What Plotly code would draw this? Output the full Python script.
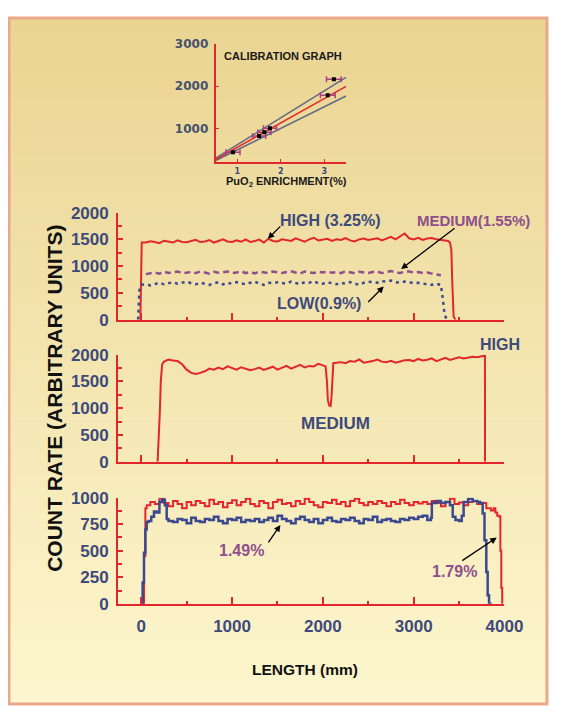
import plotly.graph_objects as go

# Page is 573x722; browser body keeps its default 8px margin, so the figure is 16px smaller.
PAGE_W, PAGE_H = 573, 722
BODY_MARGIN = 8
W, H = PAGE_W - 2 * BODY_MARGIN, PAGE_H - 2 * BODY_MARGIN

# ---------------- data ----------------
# Panel 1: three pellets of different enrichment (count rate vs length, mm)
P1_HIGH_X = [-10, 5] + list(range(50, 3400, 50)) + [3380, 3400, 3415, 3425, 3440, 3460]
P1_HIGH_Y = [0, 1440,
             1440, 1465, 1450, 1430, 1475, 1455, 1440, 1480, 1450, 1445,
             1470, 1490, 1450, 1460, 1485, 1440, 1470, 1500, 1460, 1450,
             1480, 1455, 1500, 1450, 1470, 1495, 1440, 1510, 1470, 1460,
             1500, 1480, 1470, 1520, 1490, 1455, 1500, 1530, 1480, 1490,
             1510, 1470, 1500, 1490, 1525, 1480, 1460, 1500, 1515, 1490,
             1500, 1520, 1480, 1510, 1545, 1500, 1560, 1610, 1520, 1500,
             1530, 1490, 1515, 1525, 1500, 1490, 1480,
             1470, 1440, 1300, 700, 60, 0]

P1_MED_X = list(range(50, 3350, 50))
P1_MED_Y = [850, 870, 880, 860, 895, 870, 880, 900, 865, 880,
            890, 870, 900, 880, 860, 895, 875, 885, 900, 870,
            880, 905, 870, 890, 865, 895, 880, 870, 900, 885,
            870, 890, 905, 880, 860, 900, 885, 870, 895, 880,
            900, 875, 890, 870, 905, 880, 865, 895, 880, 870,
            890, 900, 870, 885, 910, 880, 870, 895, 900, 880,
            890, 870, 880, 860, 850, 830]

P1_LOW_X = [-35, -30, -25, -20, 0] + list(range(50, 3350, 50)) + [3310, 3320, 3330, 3340, 3360, 3380]
P1_LOW_Y = [0, 150, 350, 560, 650,
            660, 640, 670, 690, 660, 680, 700, 670, 690, 710,
            680, 660, 690, 670, 650, 680, 700, 660, 690, 670,
            700, 680, 660, 690, 710, 670, 650, 690, 680, 700,
            690, 670, 710, 680, 660, 700, 690, 720, 680, 670,
            700, 680, 660, 690, 670, 700, 680, 650, 690, 710,
            700, 690, 720, 710, 730, 700, 690, 710, 700, 680,
            690, 670, 660, 650, 670, 650,
            560, 400, 250, 100, 20, 0]

# Panel 2: pellet column with a medium pellet inside a high column
P2_X = ([180, 195, 205, 215, 230] + list(range(250, 2050, 50))
        + [2030, 2045, 2055, 2070, 2085, 2095, 2105, 2115]
        + list(range(2150, 3800, 50)) + [3785, 3786])
P2_Y = [0, 450, 950, 1500, 1820,
        1870, 1910, 1890, 1880, 1820, 1720, 1660, 1640, 1660, 1690,
        1740, 1720, 1760, 1730, 1780, 1750, 1720, 1765, 1740, 1710,
        1730, 1760, 1715, 1745, 1775, 1720, 1760, 1790, 1740, 1770,
        1810, 1760, 1790, 1780, 1830, 1800,
        1780, 1500, 1150, 1050, 1040, 1200, 1500, 1840,
        1850, 1860, 1840, 1880, 1870, 1910, 1850, 1860, 1880, 1910,
        1870, 1860, 1885, 1850, 1870, 1895, 1900, 1880, 1920, 1890,
        1905, 1930, 1880, 1910, 1940, 1900, 1925, 1950, 1930, 1945,
        1960, 1950, 1975,
        1985, 0]

# Panel 3: two fuel pins (1.79 % red, 1.49 % blue)
P3_RED_X = [15, 30, 45, 60] + list(range(100, 3900, 50)) + [3880, 3900, 3920, 3945, 3955, 3965, 3975]
P3_RED_Y = [0, 450, 900, 930,
            960, 940, 990, 950, 920, 970, 940, 900, 960, 930,
            970, 950, 920, 980, 940, 960, 910, 950, 975, 930,
            960, 990, 940, 920, 970, 950, 900, 960, 980, 940,
            950, 920, 970, 940, 990, 960, 930, 910, 960, 950,
            980, 940, 960, 920, 970, 990, 950, 930, 960, 940,
            970, 950, 920, 960, 940, 980, 950, 930, 960, 945,
            960, 940, 970, 950, 920, 960, 990, 940, 955, 930,
            960, 970, 940, 950, 900, 880,
            900, 860, 830, 820, 500, 150, 0]

P3_BLUE_X = ([0, 15, 30, 45, 60, 80, 110, 140, 170, 200, 230, 260, 280]
             + list(range(300, 3200, 50))
             + [3190, 3200, 3250, 3300, 3350, 3400, 3430, 3460, 3500, 3530, 3550,
                3600, 3650, 3700, 3730, 3760, 3780, 3800, 3815, 3830, 3860])
P3_BLUE_Y = [0, 200, 480, 700, 770, 780, 820, 870, 860, 960, 980, 930, 800,
             780, 770, 800, 790, 760, 810, 780, 770, 800, 790,
             820, 780, 760, 800, 790, 810, 770, 790, 780, 800,
             770, 790, 810, 780, 830, 800, 780, 760, 800, 820,
             790, 770, 800, 760, 790, 810, 780, 770, 800, 790,
             810, 780, 760, 800, 790, 820, 770, 790, 800, 780,
             770, 800, 790, 810, 800, 820, 830, 790,
             810, 950, 970, 950, 960, 930, 820, 790, 780, 830, 960,
             990, 970, 960, 950, 850, 600, 300, 80, 0, 0]

# Inset: calibration graph
CAL_LINE_X = [0.5, 3.5]
CAL_FIT_Y = [260, 2000]
CAL_UPPER_Y = [290, 2210]
CAL_LOWER_Y = [235, 1770]
CAL_ENR = [0.9, 1.5, 1.62, 1.75, 3.08, 3.22]
CAL_RATE = [430, 820, 910, 1000, 1790, 2170]
CAL_ERR = [0.16, 0.15, 0.15, 0.15, 0.17, 0.17]

MAIN_YTICKS_2000 = [0, 500, 1000, 1500, 2000]
MAIN_YTICKS_1000 = [0, 250, 500, 750, 1000]
MAIN_XTICKS = [0, 1000, 2000, 3000, 4000]
CAL_YTICKS = [1000, 2000, 3000]
CAL_XTICKS = [1, 2, 3]

# ---------------- styling ----------------
RED = "#e3262b"
BLUE = "#3b4a8e"
PURPLE = "#8e4f8c"
NAVY_TXT = "#3d4a7c"
FONT = "Liberation Sans, Arial, sans-serif"


def fx(px):
    """page pixel x -> paper fraction"""
    return (px - BODY_MARGIN) / W


def fy(py):
    """page pixel y (from top) -> paper fraction"""
    return 1 - (py - BODY_MARGIN) / H


fig = go.Figure()

# panel 1
fig.add_trace(go.Scatter(x=P1_HIGH_X, y=P1_HIGH_Y, mode="lines", line=dict(color=RED, width=2),
                         xaxis="x", yaxis="y", hoverinfo="skip"))
fig.add_trace(go.Scatter(x=P1_MED_X, y=P1_MED_Y, mode="lines",
                         line=dict(color=PURPLE, width=2.5, dash="6px,4px"),
                         xaxis="x", yaxis="y", hoverinfo="skip"))
fig.add_trace(go.Scatter(x=P1_LOW_X, y=P1_LOW_Y, mode="lines",
                         line=dict(color=BLUE, width=2.5, dash="3px,4px"),
                         xaxis="x", yaxis="y", hoverinfo="skip"))
# panel 2
fig.add_trace(go.Scatter(x=P2_X, y=P2_Y, mode="lines", line=dict(color=RED, width=2),
                         xaxis="x2", yaxis="y2", hoverinfo="skip"))
# panel 3
fig.add_trace(go.Scatter(x=P3_RED_X, y=P3_RED_Y, mode="lines", line=dict(color=RED, width=2),
                         line_shape="hv", xaxis="x3", yaxis="y3", hoverinfo="skip"))
fig.add_trace(go.Scatter(x=P3_BLUE_X, y=P3_BLUE_Y, mode="lines", line=dict(color=BLUE, width=2.5),
                         line_shape="hv", xaxis="x3", yaxis="y3", hoverinfo="skip"))
# inset
fig.add_trace(go.Scatter(x=CAL_LINE_X, y=CAL_UPPER_Y, mode="lines", line=dict(color="#646a86", width=1.5),
                         xaxis="x4", yaxis="y4", hoverinfo="skip"))
fig.add_trace(go.Scatter(x=CAL_LINE_X, y=CAL_LOWER_Y, mode="lines", line=dict(color="#646a86", width=1.5),
                         xaxis="x4", yaxis="y4", hoverinfo="skip"))
fig.add_trace(go.Scatter(x=CAL_LINE_X, y=CAL_FIT_Y, mode="lines", line=dict(color=RED, width=1.5),
                         xaxis="x4", yaxis="y4", hoverinfo="skip"))
fig.add_trace(go.Scatter(x=CAL_ENR, y=CAL_RATE, mode="markers",
                         marker=dict(symbol="square", size=4, color="black"),
                         error_x=dict(type="data", array=CAL_ERR, color="#a8407e", thickness=1.5, width=3),
                         xaxis="x4", yaxis="y4", hoverinfo="skip"))

tickfont = dict(family=FONT, size=17, color=NAVY_TXT, weight="bold")
main_xdom = [fx(122), fx(522)]


def xax(domain, anchor, labels):
    return dict(domain=domain, anchor=anchor, range=[-255, 4000], showgrid=False, zeroline=False,
                showline=True, linecolor=RED, linewidth=2, ticks="inside", ticklen=7, tickwidth=1.5,
                tickcolor=RED, tickvals=MAIN_XTICKS, showticklabels=labels, tickfont=tickfont,
                ticklabelstandoff=6,
                minor=dict(dtick=500, tick0=0, ticks="inside", ticklen=3, tickcolor=RED, tickwidth=1.5))


def yax(domain, anchor, rng, vals, minor):
    return dict(domain=domain, anchor=anchor, range=rng, showgrid=False, zeroline=False,
                showline=True, linecolor=RED, linewidth=2, ticks="inside", ticklen=5, tickwidth=1.5,
                tickcolor=RED, tickvals=vals, tickfont=tickfont, ticklabelstandoff=4,
                minor=dict(dtick=minor, tick0=0, ticks="inside", ticklen=4, tickcolor=RED, tickwidth=1.5))


# background gradient + frame
FR_L, FR_R, FR_T, FR_B = 9, 566, 9, 714
shapes = []
N = 60
c0 = (234, 212, 146)
c1 = (253, 246, 206)
for i in range(N):
    t = i / (N - 1)
    c = tuple(round(c0[k] + (c1[k] - c0[k]) * t) for k in range(3))
    y0 = FR_T + (FR_B - FR_T) * i / N
    y1 = min(FR_T + (FR_B - FR_T) * (i + 1) / N + 0.6, FR_B)
    shapes.append(dict(type="rect", xref="paper", yref="paper", layer="below",
                       x0=fx(FR_L), x1=fx(FR_R), y0=fy(y1), y1=fy(y0),
                       line=dict(width=0), fillcolor="rgb(%d,%d,%d)" % c))
shapes.append(dict(type="rect", xref="paper", yref="paper", layer="below",
                   x0=fx(FR_L), x1=fx(FR_R), y0=fy(FR_B), y1=fy(FR_T),
                   line=dict(color="#e8a98b", width=3), fillcolor="rgba(0,0,0,0)"))

ann = []


def text(s, x, y, size, color, family=FONT):
    ann.append(dict(text=s, x=fx(x), y=fy(y), xref="paper", yref="paper", showarrow=False,
                    xanchor="center", yanchor="middle",
                    font=dict(family=family, size=size, color=color, weight="bold")))


def arrow(tail, tip):
    ann.append(dict(text="", x=fx(tip[0]), y=fy(tip[1]), xref="paper", yref="paper",
                    ax=tail[0] - tip[0], ay=tail[1] - tip[1], showarrow=True,
                    arrowhead=2, arrowsize=1, arrowwidth=1.3, arrowcolor="black"))


text("HIGH (3.25%)", 341, 217, 16, NAVY_TXT)
text("MEDIUM(1.55%)", 490, 217, 15, PURPLE)
text("LOW(0.9%)", 330, 302, 16, NAVY_TXT)
text("MEDIUM", 347, 426, 17, NAVY_TXT)
text("HIGH", 517, 345, 16, NAVY_TXT)
text("1.49%", 250, 556, 16, PURPLE)
text("1.79%", 470, 578, 16, PURPLE)
text("CALIBRATION GRAPH", 293, 48, 11, "#1a1a1a")
text("PuO<sub>2</sub> ENRICHMENT(%)", 296, 178, 11, "#1a1a1a")
text("LENGTH (mm)", 316, 679, 15.5, "#111111")
ann.append(dict(text="COUNT RATE (ARBITRARY UNITS)", x=fx(56), y=fy(400), xref="paper", yref="paper",
                showarrow=False, textangle=-90, xanchor="center", yanchor="middle",
                font=dict(family=FONT, size=21, color="#111111", weight="bold")))

arrow((291, 222), (277, 236))
arrow((470, 225), (415, 267))
arrow((380, 302), (397, 285))
arrow((277, 549), (290, 530))
arrow((478, 567), (514, 543))

fig.update_layout(
    width=W, height=H, autosize=False,
    margin=dict(l=0, r=0, t=0, b=0, pad=0),
    paper_bgcolor="white", plot_bgcolor="rgba(0,0,0,0)",
    showlegend=False,
    shapes=shapes, annotations=ann,
    xaxis=xax(main_xdom, "y", False),
    yaxis=yax([fy(319), fy(209)], "x", [0, 2000], MAIN_YTICKS_2000, 250),
    xaxis2=xax(main_xdom, "y2", False),
    yaxis2=yax([fy(465), fy(355)], "x2", [0, 2000], MAIN_YTICKS_2000, 250),
    xaxis3=xax(main_xdom, "y3", True),
    yaxis3=yax([fy(611), fy(502)], "x3", [0, 1000], MAIN_YTICKS_1000, 125),
    xaxis4=dict(domain=[fx(223), fx(358)], anchor="y4", range=[0.5, 3.5], showgrid=False, zeroline=False,
                showline=True, linecolor=RED, linewidth=2, ticks="inside", ticklen=3, tickcolor=RED,
                tickvals=CAL_XTICKS, ticklabelstandoff=0,
                tickfont=dict(family="DejaVu Sans", size=8, color=NAVY_TXT, weight="bold")),
    yaxis4=dict(domain=[fy(157), fy(36)], anchor="x4", range=[200, 3000], showgrid=False, zeroline=False,
                showline=True, linecolor=RED, linewidth=2, ticks="inside", ticklen=3, tickcolor=RED,
                tickvals=CAL_YTICKS, ticklabelstandoff=3,
                tickfont=dict(family="DejaVu Sans", size=12, color="#44506e", weight="bold")),
)

fig.write_html("out.html", config={"displayModeBar": False})
